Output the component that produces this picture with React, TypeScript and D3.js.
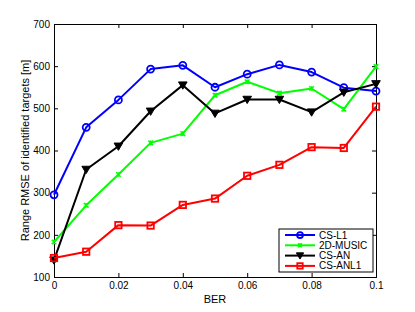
import React, { useEffect, useRef } from 'react';
import * as d3 from 'd3';

const ber = [0, 0.01, 0.02, 0.03, 0.04, 0.05, 0.06, 0.07, 0.08, 0.09, 0.1];
const csL1 = [295, 455, 520, 593, 602, 550, 581, 603, 586, 549, 541];
const music2d = [183, 270, 343, 418, 440, 531, 563, 536, 547, 498, 599];
const csAN = [140, 355, 410, 493, 555, 488, 521, 521, 491, 538, 558];
const csANL1 = [145, 160, 223, 222, 271, 286, 340, 366, 408, 406, 504];
const xTicks = [0, 0.02, 0.04, 0.06, 0.08, 0.1];
const yTicks = [100, 200, 300, 400, 500, 600, 700];

const series = [
  { name: 'CS-L1', values: csL1, color: '#0000ff', marker: 'circle' },
  { name: '2D-MUSIC', values: music2d, color: '#00ff00', marker: 'x' },
  { name: 'CS-AN', values: csAN, color: '#000000', marker: 'tri' },
  { name: 'CS-ANL1', values: csANL1, color: '#ff0000', marker: 'square' },
];

const W = 415;
const H = 312;

const App: React.FC = () => {
  const svgRef = useRef<SVGSVGElement>(null);

  useEffect(() => {
    if (!svgRef.current) return;
    const svg = d3.select(svgRef.current);
    svg.selectAll('*').remove();

    const margin = { top: 24, right: 39, bottom: 35, left: 54 };
    const iw = W - margin.left - margin.right;
    const ih = H - margin.top - margin.bottom;
    const font = 'Liberation Sans, Arial, sans-serif';

    const x = d3.scaleLinear().domain([0, 0.1]).range([0, iw]);
    const y = d3.scaleLinear().domain([100, 700]).range([ih, 0]);

    const g = svg.append('g').attr('transform', `translate(${margin.left},${margin.top})`);

    g.append('rect').attr('width', iw).attr('height', ih).attr('fill', '#fff');

    const tl = 4;
    const fmtX = (d: number) => (d === 0 ? '0' : d3.format('')(+d.toFixed(2)));

    // box-style axes, ticks pointing inward
    g.append('g').attr('transform', `translate(0,${ih})`)
      .call(d3.axisBottom(x).tickValues(xTicks).tickSize(-tl).tickPadding(5).tickFormat(d => fmtX(d as number)));
    g.append('g')
      .call(d3.axisTop(x).tickValues(xTicks).tickSize(-tl).tickFormat(() => ''));
    g.append('g')
      .call(d3.axisLeft(y).tickValues(yTicks).tickSize(-tl).tickPadding(4).tickFormat(d3.format('d')));
    g.append('g').attr('transform', `translate(${iw},0)`)
      .call(d3.axisRight(y).tickValues(yTicks).tickSize(-tl).tickFormat(() => ''));

    g.selectAll('.domain').attr('stroke', '#000').attr('stroke-width', 1);
    g.selectAll('.tick line').attr('stroke', '#000');
    g.selectAll('.tick text').attr('font-family', font).attr('font-size', 10).attr('fill', '#000');

    const line = d3.line<number>()
      .x((_, i) => x(ber[i]))
      .y(d => y(d));

    const drawMarker = (sel: any, kind: string, color: string, cx: number, cy: number, k = 1) => {
      if (kind === 'circle') {
        sel.append('circle').attr('cx', cx).attr('cy', cy).attr('r', 3.5 * k)
          .attr('fill', 'none').attr('stroke', color).attr('stroke-width', 1.8);
      } else if (kind === 'x') {
        const s = 2.3 * k;
        sel.append('path')
          .attr('d', `M${cx - s},${cy - s}L${cx + s},${cy + s}M${cx - s},${cy + s}L${cx + s},${cy - s}M${cx},${cy - s}L${cx},${cy + s}`)
          .attr('stroke', color).attr('stroke-width', 1.5).attr('fill', 'none');
      } else if (kind === 'tri') {
        const s = 4.3 * k;
        sel.append('path')
          .attr('d', `M${cx - s},${cy - s * 0.75}L${cx + s},${cy - s * 0.75}L${cx},${cy + s * 0.95}Z`)
          .attr('fill', color).attr('stroke', color).attr('stroke-width', 1);
      } else {
        const s = 3.2 * k;
        sel.append('rect').attr('x', cx - s).attr('y', cy - s).attr('width', 2 * s).attr('height', 2 * s)
          .attr('fill', 'none').attr('stroke', color).attr('stroke-width', 1.8);
      }
    };

    series.forEach(s => {
      const sg = g.append('g');
      sg.append('path').datum(s.values)
        .attr('fill', 'none').attr('stroke', s.color).attr('stroke-width', 2)
        .attr('stroke-linejoin', 'round')
        .attr('d', line);
      s.values.forEach((v, i) => drawMarker(sg, s.marker, s.color, x(ber[i]), y(v)));
    });

    // legend
    const lx = 279 - margin.left;
    const ly = 229 - margin.top;
    const lw = 94;
    const lh = 43;
    const leg = g.append('g').attr('transform', `translate(${lx},${ly})`);
    leg.append('rect').attr('width', lw).attr('height', lh)
      .attr('fill', '#fff').attr('stroke', '#000').attr('stroke-width', 1);
    series.forEach((s, i) => {
      const cy = 6 + i * 10.3;
      leg.append('line').attr('x1', 6).attr('x2', 36).attr('y1', cy).attr('y2', cy)
        .attr('stroke', s.color).attr('stroke-width', 2);
      drawMarker(leg, s.marker, s.color, 21, cy, 0.85);
      leg.append('text').attr('x', 40).attr('y', cy).attr('dy', '0.35em')
        .attr('font-family', font).attr('font-size', 10).attr('fill', '#000')
        .text(s.name);
    });

    // axis titles
    svg.append('text')
      .attr('x', margin.left + iw / 2).attr('y', H - 9)
      .attr('text-anchor', 'middle')
      .attr('font-family', font).attr('font-size', 11).attr('fill', '#000')
      .text('BER');
    svg.append('text')
      .attr('transform', `translate(${29},${margin.top + ih / 2}) rotate(-90)`)
      .attr('text-anchor', 'middle')
      .attr('font-family', font).attr('font-size', 11).attr('fill', '#000')
      .text('Range RMSE of identified targets [m]');
  }, []);

  return (
    <svg ref={svgRef} width={W} height={H}
      style={{ position: 'absolute', left: 0, top: 0, background: '#fff' }} />
  );
};

export default App;
